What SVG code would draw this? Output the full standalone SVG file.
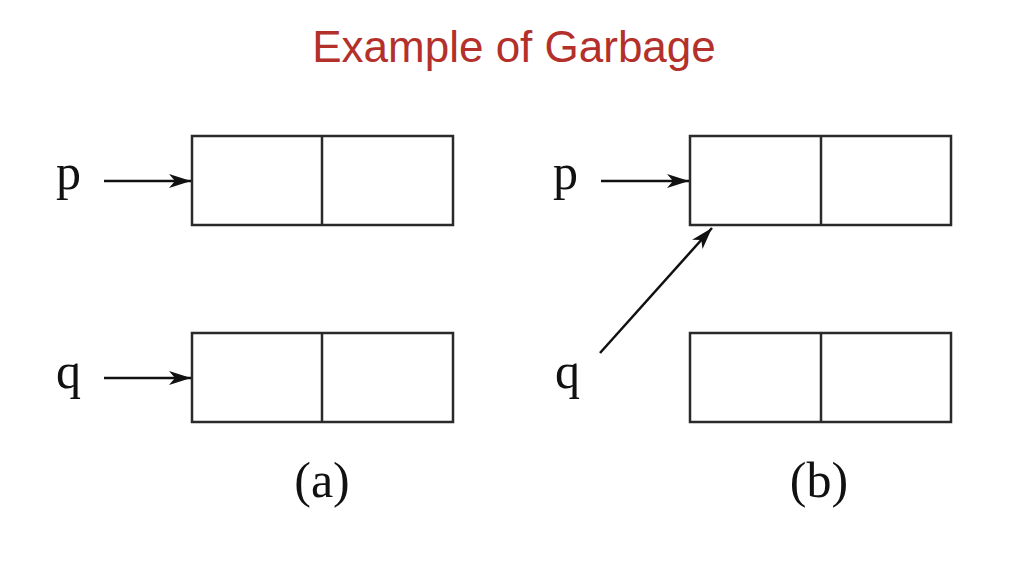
<svg xmlns="http://www.w3.org/2000/svg" width="1024" height="578" viewBox="0 0 1024 578">
<style>
.box{fill:#fff;stroke:#2a2a2a;stroke-width:2.5}
.div{stroke:#2a2a2a;stroke-width:2.5}
.lbl{font-family:"Liberation Serif",serif;font-size:50px;fill:#111}
.cap{font-family:"Liberation Serif",serif;font-size:50px;fill:#111;text-anchor:middle}
.title{font-family:"Liberation Sans",Arial,sans-serif;font-size:44px;fill:#b3302b;text-anchor:middle}
.arr{stroke:#111;stroke-width:2.5;fill:none;marker-end:url(#ah)}
</style>
<defs>
<marker id="ah" viewBox="0 0 22 14" refX="22" refY="7" markerWidth="22" markerHeight="14" markerUnits="userSpaceOnUse" orient="auto">
<path d="M0,0 L22,7 L0,14 L6,7 Z" fill="#111"/>
</marker>
</defs>
<rect width="1024" height="578" fill="#fff"/>
<text class="title" x="514" y="62">Example of Garbage</text>
<g id="a-p-cell"><rect class="box" x="192" y="136" width="261" height="89"/><line class="div" x1="322" y1="136" x2="322" y2="225"/></g>
<g id="a-q-cell"><rect class="box" x="192" y="333" width="261" height="89"/><line class="div" x1="322" y1="333" x2="322" y2="422"/></g>
<g id="b-p-cell"><rect class="box" x="690" y="136" width="261" height="89"/><line class="div" x1="821" y1="136" x2="821" y2="225"/></g>
<g id="b-q-cell"><rect class="box" x="690" y="333" width="261" height="89"/><line class="div" x1="821" y1="333" x2="821" y2="422"/></g>
<g id="labels">
<text class="lbl" x="56" y="189">p</text>
<text class="lbl" x="56" y="388">q</text>
<text class="lbl" x="553" y="189">p</text>
<text class="lbl" x="555" y="388">q</text>
<text class="cap" x="322" y="497">(a)</text>
<text class="cap" x="819" y="497">(b)</text>
</g>
<g id="connectors">
<line class="arr" x1="104" y1="181" x2="191" y2="181"/>
<line class="arr" x1="104" y1="378" x2="191" y2="378"/>
<line class="arr" x1="601" y1="181" x2="689" y2="181"/>
<line class="arr" x1="600" y1="353" x2="712" y2="228"/>
</g>
</svg>
